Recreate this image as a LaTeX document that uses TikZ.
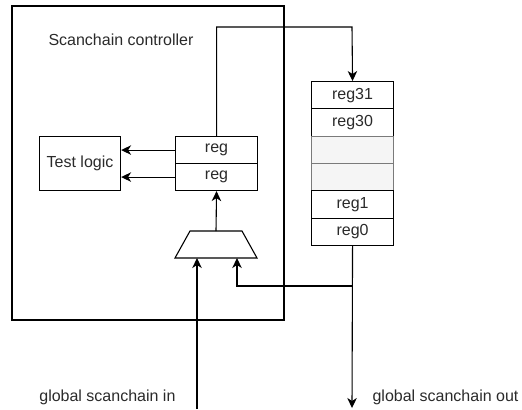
\documentclass[tikz,border=0pt]{standalone}
\usepackage{fontspec}
\setmainfont{Liberation Sans}
\usetikzlibrary{arrows.meta}
\definecolor{txt}{HTML}{2A2A2A}
\definecolor{cellgray}{HTML}{F5F5F5}
\definecolor{cellline}{HTML}{7A7A7A}
\begin{document}
\begin{tikzpicture}[x=1bp,y=-1bp,
  line width=1.1bp,
  every node/.style={font=\fontsize{16bp}{19bp}\selectfont, text=txt, inner sep=0pt},
  box/.style={draw, minimum width=82bp, minimum height=27.3bp, anchor=north west},
  blank/.style={box, fill=cellgray, draw=cellline},
  wire/.style={-{Stealth[length=10bp,width=9.5bp,inset=3bp]}},
  lbl/.style={anchor=base}
]
\useasboundingbox (0,0) rectangle (522,409);

% controller frame
\draw (12,6) rectangle (284,320);
\node[lbl] (title) at (121,45) {Scanchain controller};

% test logic and its two shift registers
\node[draw, minimum width=81bp, minimum height=54bp, anchor=north west] (tl) at (39,136) {Test logic};
\node[box, minimum height=27bp] (ra) at (175,136) {reg};
\node[box, minimum height=27bp] (rb) at (175,163) {reg};

% input multiplexer
\coordinate (mux) at (216,231);
\coordinate (muxa) at (197,258);
\coordinate (muxb) at (237,258);
\draw (190,231) -- (242,231) -- (257,258) -- (175,258) -- cycle;

% register chain
\node[box] (r31) at (311,81) {reg31};
\node[box] (r30) at (311,108.33) {reg30};
\node[blank] (g1) at (311,135.67) {};
\node[blank] (g2) at (311,163) {};
\node[box] (r1) at (311,190.33) {reg1};
\node[box] (r0) at (311,217.67) {reg0};

% free ends
\coordinate (gin) at (197,409);
\coordinate (gout) at (352,408);
\coordinate (tap) at (352,286);

% connections
\draw[wire] (ra.north) |- (352,27) -- (r31.north);
\draw[wire] (ra.west) -- (tl.east |- ra.west);
\draw[wire] (rb.west) -- (tl.east |- rb.west);
\draw[wire] (mux) -- (rb.south);
\draw[wire] (gin) -- (muxa);
\draw[wire] (r0.south) -- (gout);
\draw[wire] (tap) -| (muxb);

\node[lbl, anchor=base east] (inlbl) at (176,401) {global scanchain in};
\node[lbl, anchor=base west] (outlbl) at (372,401) {global scanchain out};
\end{tikzpicture}
\end{document}
